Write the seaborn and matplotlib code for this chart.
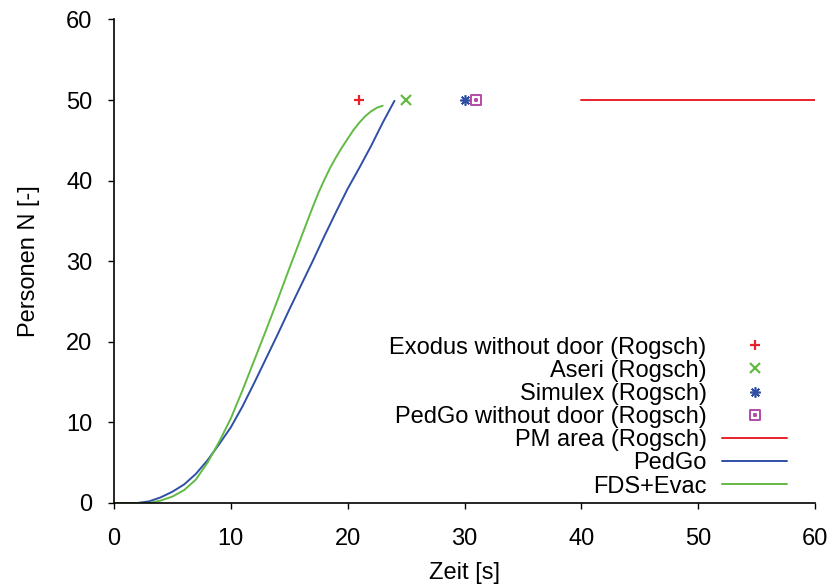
import matplotlib
matplotlib.use("Agg")
import matplotlib.pyplot as plt
from matplotlib.path import Path
import seaborn as sns

# Evacuation curves: number of persons out vs. time
pedgo_t = [0, 1, 2, 3, 4, 5, 6, 7, 8, 9, 10, 11, 12, 13, 14, 15, 16, 17, 18, 19, 20, 21, 22, 23, 24]
pedgo_n = [0, 0, 0, 0.2, 0.7, 1.4, 2.3, 3.6, 5.3, 7.3, 9.4, 12.0, 14.9, 17.9, 20.9, 24.0,
           27.0, 30.0, 33.1, 36.1, 39.0, 41.6, 44.3, 47.2, 49.9]

fds_t = [0, 1, 2, 3, 4, 5, 6, 7, 8, 9, 10, 11, 12, 13, 14, 15, 16, 17, 17.5, 18, 18.5,
         19, 19.5, 20, 20.5, 21, 21.5, 22, 22.5, 23]
fds_n = [0, 0, 0, 0, 0.3, 0.8, 1.6, 2.9, 5.0, 7.6, 10.5, 14.0, 17.7, 21.4, 25.2, 29.1,
         32.9, 36.7, 38.5, 40.1, 41.6, 42.9, 44.1, 45.2, 46.3, 47.2, 48.0, 48.6, 49.05, 49.3]

# Reference evacuation times (Rogsch), all 50 persons
exodus_t, exodus_n = [21], [50]
aseri_t, aseri_n = [25], [50]
simulex_t, simulex_n = [30], [50]
pedgo_nodoor_t, pedgo_nodoor_n = [31], [50]
pm_area_t, pm_area_n = [40, 60], [50, 50]

RED = "#e8212a"
GREEN = "#62ba45"
BLUE = "#2f4fa6"
MAGENTA = "#b54ba6"

FS = 17

sns.set_theme(style="ticks")
plt.rcParams["font.family"] = ["Liberation Sans", "DejaVu Sans"]
plt.rcParams["font.size"] = FS
plt.rcParams["text.color"] = "black"
plt.rcParams["axes.labelcolor"] = "black"

fig = plt.figure(figsize=(8.33, 5.85), dpi=100)
ax = fig.add_axes([0.1369, 0.1402, 0.9784 - 0.1369, 0.9667 - 0.1402])

# square outline with a dot in the middle
box_dot = Path(
    [(-1, -1), (1, -1), (1, 1), (-1, 1), (-1, -1),
     (-0.12, -0.12), (0.12, -0.12), (0.12, 0.12), (-0.12, 0.12), (-0.12, -0.12)],
    [Path.MOVETO, Path.LINETO, Path.LINETO, Path.LINETO, Path.CLOSEPOLY,
     Path.MOVETO, Path.LINETO, Path.LINETO, Path.LINETO, Path.CLOSEPOLY],
)


def point(x, y, color, marker, label, size=7, mew=1.6):
    sns.lineplot(x=x, y=y, ax=ax, color=color, marker=marker, linestyle="",
                 markersize=size, markeredgewidth=mew, markeredgecolor=color,
                 markerfacecolor="none", label=label, legend=False)


point(exodus_t, exodus_n, RED, "+", "Exodus without door (Rogsch)")
point(aseri_t, aseri_n, GREEN, "x", "Aseri (Rogsch)", size=6.5)
point(simulex_t, simulex_n, BLUE, (8, 2, 0), "Simulex (Rogsch)", size=7.5, mew=1.2)
point(pedgo_nodoor_t, pedgo_nodoor_n, MAGENTA, box_dot, "PedGo without door (Rogsch)",
      size=7, mew=1.4)

line_kw = dict(linewidth=1.4, legend=False, estimator=None, sort=False)
sns.lineplot(x=pm_area_t, y=pm_area_n, ax=ax, color=RED, label="PM area (Rogsch)", **line_kw)
sns.lineplot(x=pedgo_t, y=pedgo_n, ax=ax, color=BLUE, label="PedGo", **line_kw)
sns.lineplot(x=fds_t, y=fds_n, ax=ax, color=GREEN, label="FDS+Evac", **line_kw)

ax.set_xlim(0, 60)
ax.set_ylim(0, 60)
ax.set_xticks(range(0, 61, 10))
ax.set_yticks(range(0, 61, 10))
ax.set_xlabel("Zeit [s]", fontsize=FS, labelpad=9)
ax.set_ylabel("Personen N [-]", fontsize=FS, labelpad=19)

for side in ("top", "right"):
    ax.spines[side].set_visible(False)
for side in ("left", "bottom"):
    ax.spines[side].set_color("black")
    ax.spines[side].set_linewidth(1.2)
ax.tick_params(axis="both", direction="out", length=4, width=1.0, color="black",
               labelsize=FS, labelcolor="black")
ax.tick_params(axis="x", pad=14)
ax.tick_params(axis="y", pad=11.5)

leg = ax.legend(loc="lower right", bbox_to_anchor=(0.96, 0.011), frameon=False,
                markerfirst=False, alignment="right", numpoints=1,
                handlelength=2.75, handletextpad=0.65, labelspacing=0.05,
                borderpad=0, borderaxespad=0, fontsize=FS)
for txt in leg.get_texts():
    txt.set_color("black")

fig.savefig("out.png", dpi=100)
